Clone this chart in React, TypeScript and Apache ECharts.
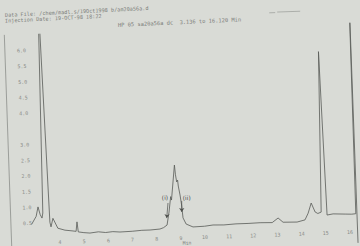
import React, { useEffect, useRef } from "react";
import * as echarts from "echarts";

const headerLines = [
  "Data File: /chem/madl.s/19Oct1998 b/am20a56a.d",
  "Injection Date: 19-OCT-98 18:22",
];
const signalTitle = "HP 05 sa20a56a dc  3.136 to 16.120 Min";
const xAxisName = "Min";

// retention time (min)
const times = [
  2.85, 3.05, 3.14, 3.22, 3.29, 3.33, 3.42, 3.44, 3.47, 3.54, 3.61, 3.65, 3.74, 3.93,
  4.22, 4.51, 4.68, 4.73, 4.77, 5.0, 5.25, 5.6, 5.9, 6.2, 6.49, 7.0, 7.4, 7.74, 8.15,
  8.3, 8.45, 8.55, 8.64, 8.67, 8.84, 8.87, 8.91, 8.95, 8.97, 9.03, 9.08, 9.12, 9.24,
  9.52, 10.0, 10.35, 10.8, 11.3, 11.8, 12.3, 12.8, 13.05, 13.25, 13.83, 14.16, 14.3,
  14.44, 14.59, 14.7, 14.84, 14.96, 15.08, 15.33, 15.83, 16.1, 16.27, 16.3, 16.32,
];
// detector response
const response = [
  0.45, 0.7, 1.0, 0.75, 0.64, 0.8, 6.6, 8.0, 6.47, 3.44, 0.5, 0.35, 0.62, 0.3,
  0.23, 0.2, 0.18, 0.48, 0.16, 0.13, 0.11, 0.14, 0.11, 0.13, 0.11, 0.12, 0.14, 0.14, 0.16,
  0.2, 0.28, 0.69, 1.18, 1.07, 2.18, 1.87, 1.64, 1.7, 1.51, 1.22, 0.9, 0.49, 0.29,
  0.19, 0.2, 0.23, 0.22, 0.24, 0.24, 0.25, 0.24, 0.38, 0.24, 0.23, 0.29, 0.5,
  0.82, 0.53, 0.48, 0.52, 5.63, 0.42, 0.45, 0.43, 0.42, 0.43, 8.0, -0.5,
];

const xTickValues = [4, 5, 6, 7, 8, 9, 10, 11, 12, 13, 14, 15, 16];
const yTickLabels = ["0.5", "1.0", "1.5", "2.0", "2.5", "3.0", "4.0", "4.5", "5.0", "5.5", "6.0"];

const peakNotes = ["(i)", "(ii)"];
const noteTimes = [8.4, 9.3];
const noteLevels = [1.18, 1.15];
const arrowFrom = [
  [8.52, 0.98],
  [9.09, 1.03],
];
const arrowTo = [
  [8.446, 0.5],
  [9.075, 0.68],
];

export default function App() {
  const ref = useRef<HTMLDivElement>(null);

  useEffect(() => {
    if (!ref.current) return;
    const chart = echarts.init(ref.current, null, { renderer: "svg" });
    const mono = "'DejaVu Sans Mono', 'Liberation Mono', monospace";
    const ink = "#5a5c59";
    const faint = "#7c7e7a";
    const noteInk = "#4e504d";
    const trace = times.map((t, i) => [t, response[i]]);
    const notes = peakNotes.map((n, i) => [noteTimes[i], noteLevels[i], n]);

    chart.setOption({
      animation: false,
      backgroundColor: "transparent",
      grid: {
        left: 17.6,
        right: 11.9,
        top: 41.2,
        bottom: 9,
        containLabel: false,
        outerBoundsMode: "none",
      },
      xAxis: {
        type: "value",
        min: 2,
        max: 16.5,
        interval: 1,
        offset: -15.7,
        axisLine: { show: false, onZero: false },
        axisTick: { show: false },
        splitLine: { show: false },
        axisLabel: {
          margin: 2,
          fontSize: 5,
          fontFamily: mono,
          color: "#8a8c88",
          formatter: (v: number) => (xTickValues.includes(v) ? String(v) : ""),
        },
        name: xAxisName,
        nameLocation: "middle",
        nameGap: 7.5,
        nameMoveOverlap: false,
        nameTextStyle: { fontSize: 4.8, fontFamily: mono, color: "#7a7c78" },
      },
      yAxis: {
        type: "value",
        min: -0.5,
        max: 6.5,
        interval: 0.5,
        axisLine: { show: true, onZero: false, lineStyle: { color: "#8d8f8b", width: 0.8 } },
        axisTick: { show: false },
        splitLine: { show: false },
        axisLabel: {
          inside: true,
          margin: 12,
          fontSize: 5,
          fontFamily: mono,
          color: "#8a8c88",
          formatter: (v: number) => {
            const s = v.toFixed(1);
            return yTickLabels.includes(s) ? s : "";
          },
        },
      },
      graphic: [
        {
          type: "text",
          x: 18.8,
          y: 20.9,
          rotation: 0.014,
          style: { text: headerLines[0], fontSize: 5.2, fontFamily: mono, fill: faint, verticalAlign: "middle" },
        },
        {
          type: "text",
          x: 18.6,
          y: 26.6,
          rotation: 0.014,
          style: { text: headerLines[1], fontSize: 5.2, fontFamily: mono, fill: faint, verticalAlign: "middle" },
        },
        {
          type: "text",
          x: 131.4,
          y: 34.8,
          rotation: 0.01,
          style: { text: signalTitle, fontSize: 5.4, fontFamily: mono, fill: faint, verticalAlign: "middle" },
        },
        {
          type: "line",
          shape: { x1: 283, y1: 28, x2: 289, y2: 28 },
          style: { stroke: "#9a9c98", lineWidth: 0.7 },
        },
        {
          type: "line",
          shape: { x1: 291, y1: 27.5, x2: 314, y2: 27.5 },
          style: { stroke: "#9a9c98", lineWidth: 0.7 },
        },
      ],
      series: [
        {
          type: "line",
          data: trace,
          symbol: "none",
          showSymbol: false,
          clip: true,
          silent: true,
          lineStyle: { color: ink, width: 0.8 },
          markLine: {
            silent: true,
            symbol: ["none", "arrow"],
            symbolSize: 4,
            label: { show: false },
            lineStyle: { color: noteInk, width: 0.7, type: "solid" },
            data: arrowFrom.map((f, i) => [{ coord: f }, { coord: arrowTo[i] }]),
          },
        },
        {
          type: "scatter",
          data: notes,
          symbolSize: 1,
          silent: true,
          itemStyle: { color: noteInk, opacity: 0 },
          label: {
            show: true,
            position: "top",
            distance: -4,
            formatter: (p: any) => p.data[2],
            fontSize: 6,
            fontFamily: "'DejaVu Sans', sans-serif",
            color: noteInk,
            opacity: 1,
            textBorderWidth: 0,
          },
        },
      ],
    });
    return () => chart.dispose();
  }, []);

  return (
    <div
      style={{
        position: "fixed",
        left: 0,
        top: 0,
        width: 360,
        height: 246,
        background: "#d9dbd6",
        overflow: "hidden",
      }}
    >
      <div
        ref={ref}
        style={{
          position: "absolute",
          left: -10,
          top: -12,
          width: 380,
          height: 270,
          transform: "rotate(-2deg)",
        }}
      />
    </div>
  );
}
